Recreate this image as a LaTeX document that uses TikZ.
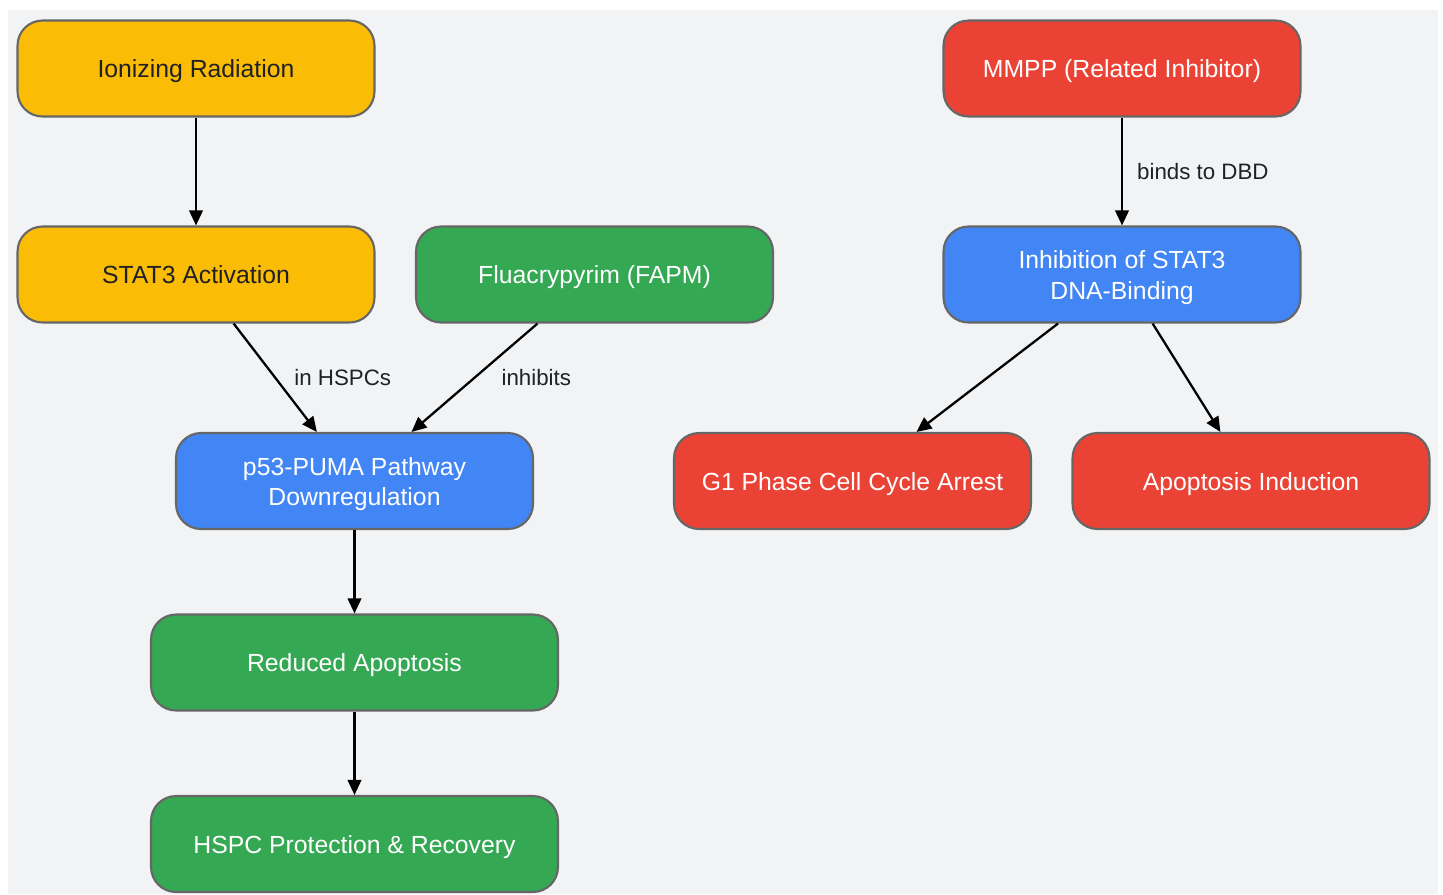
\documentclass[tikz,border=0pt]{standalone}
\usepackage{fontspec}
\setmainfont{Liberation Sans}
\usetikzlibrary{arrows.meta}
\definecolor{gyellow}{HTML}{FBBC05}
\definecolor{ggreen}{HTML}{34A853}
\definecolor{gblue}{HTML}{4285F4}
\definecolor{gred}{HTML}{EA4335}
\definecolor{gborder}{HTML}{666666}
\definecolor{gbg}{HTML}{F1F3F5}
\definecolor{gtext}{HTML}{202124}
\begin{document}
\begin{tikzpicture}[x=0.02cm, y=-0.02cm, >={Triangle[length=0.3cm,width=0.27cm]},
	box/.style={draw=gborder, line width=1.2pt, rounded corners=0.5cm, minimum width=7.14cm, minimum height=1.92cm, align=center, text=white, text height=13.7pt, text depth=3pt, font=\fontsize{14.1}{17.5}\selectfont},
	wide/.style={minimum width=8.14cm},
	twoline/.style={text height=31.2pt},
	lbl/.style={anchor=west, inner sep=0pt, text=gtext, font=\fontsize{12.7}{15}\selectfont}]
	\fill[white] (0,0) rectangle (1443,894);
	\fill[gbg] (8,10) rectangle (1438,894);
	\node[box, fill=gyellow, text=gtext] (ir) at (196,68.5) {Ionizing Radiation};
	\node[box, fill=gyellow, text=gtext] (stat) at (196,274.5) {STAT3 Activation};
	\node[box, fill=ggreen] (fapm) at (594.5,274.5) {Fluacrypyrim (FAPM)};
	\node[box, twoline, fill=gblue] (p53) at (354.5,481) {p53-PUMA Pathway\\Downregulation};
	\node[box, wide, fill=ggreen] (red) at (354.5,662.5) {Reduced Apoptosis};
	\node[box, wide, fill=ggreen] (hspc) at (354.5,844) {HSPC Protection \& Recovery};
	\node[box, fill=gred] (mmpp) at (1122,68.5) {MMPP (Related Inhibitor)};
	\node[box, twoline, fill=gblue] (inh) at (1122,274.5) {Inhibition of STAT3\\DNA-Binding};
	\node[box, fill=gred] (g1) at (852.5,481) {G1 Phase Cell Cycle Arrest};
	\node[box, fill=gred] (apo) at (1251,481) {Apoptosis Induction};
	\begin{scope}[line width=1.3pt]
		\draw[->] (ir)--(stat);
		\draw[->] (stat)--(p53) node[lbl, midway, xshift=0.36cm]{in HSPCs};
		\draw[->] (fapm)--(p53) node[lbl, midway, xshift=0.52cm]{inhibits};
		\draw[->] (p53)--(red);
		\draw[->] (red)--(hspc);
		\draw[->] (mmpp)--(inh) node[lbl, midway, xshift=0.28cm]{binds to DBD};
		\draw[->] (inh)--(g1);
		\draw[->] (inh)--(apo);
	\end{scope}
\end{tikzpicture}
\end{document}
